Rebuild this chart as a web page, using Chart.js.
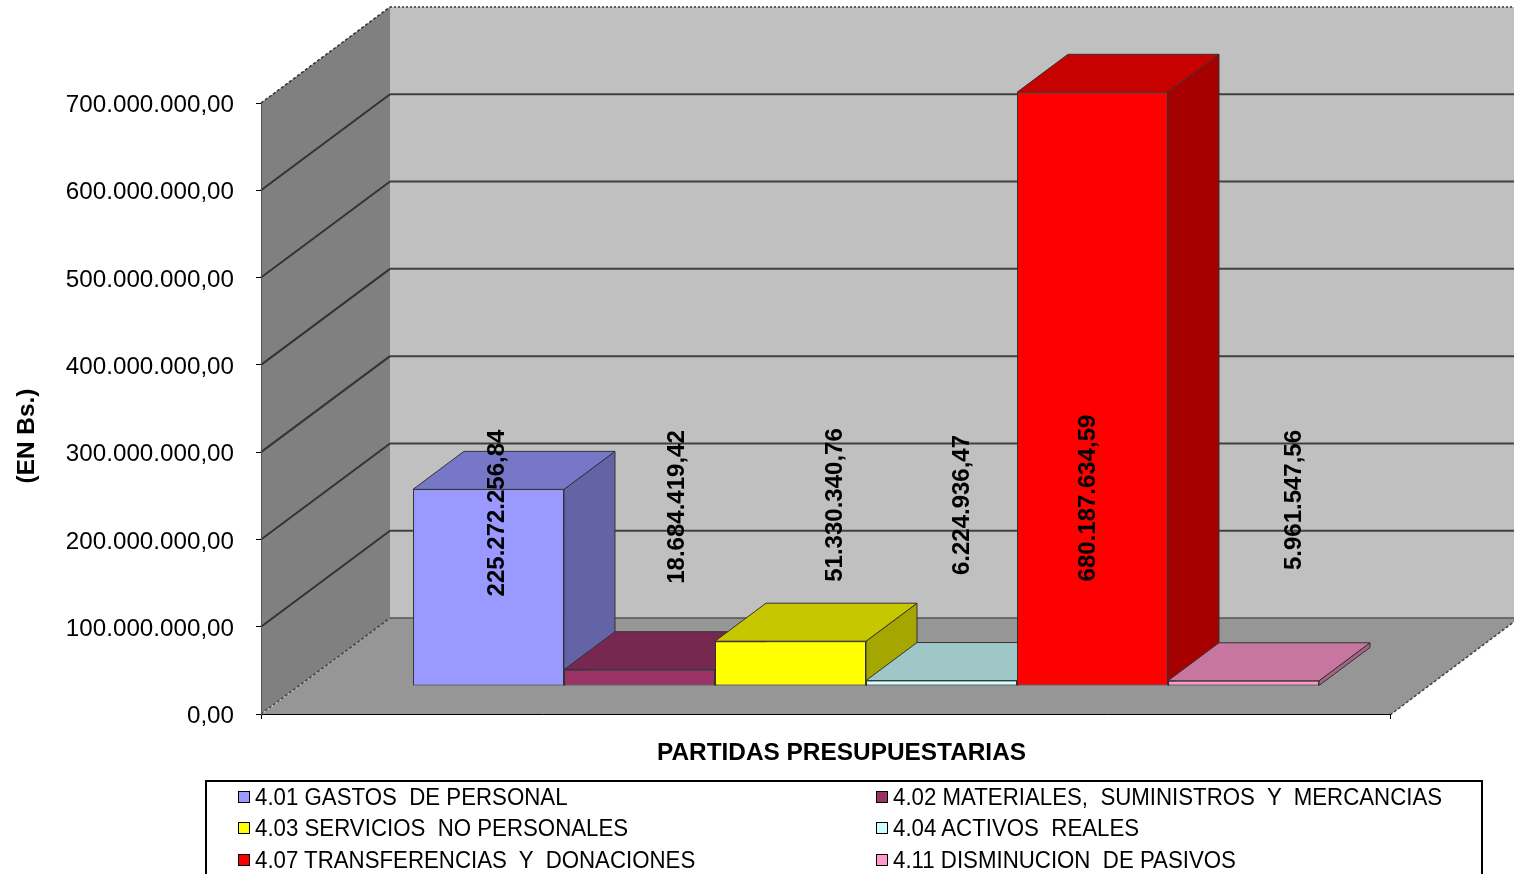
<!DOCTYPE html>
<html>
<head>
<meta charset="utf-8">
<title>Partidas presupuestarias</title>
<script src="https://cdn.jsdelivr.net/npm/chart.js@4"></script>
<style>
    html, body { margin: 0; padding: 0; background: #fff; overflow: hidden; }
    #stage { position: relative; width: 1514px; height: 874px; overflow: hidden; }
    #legend {
        position: absolute; left: 205px; top: 780px; width: 1274px; height: 110px;
        border: 2px solid #000; font: 23.5px "Liberation Sans", Arial, sans-serif; color: #000;
    }
    #legend span {
        position: absolute; white-space: pre; line-height: 28px; height: 28px;
        transform: scaleX(0.947); transform-origin: 0 0;
    }
    #legend i { position: absolute; width: 10px; height: 10px; border: 1px solid #000; }
</style>
</head>
<body>
<div id="stage">
    <canvas id="chart" width="1514" height="874"></canvas>
    <div id="legend"></div>
</div>
<script>
const seriesNames = [
    '4.01 GASTOS  DE PERSONAL',
    '4.02 MATERIALES,  SUMINISTROS  Y  MERCANCIAS',
    '4.03 SERVICIOS  NO PERSONALES',
    '4.04 ACTIVOS  REALES',
    '4.07 TRANSFERENCIAS  Y  DONACIONES',
    '4.11 DISMINUCION  DE PASIVOS'
];
const seriesValues = [225272256.84, 18684419.42, 51330340.76, 6224936.47, 680187634.59, 5961547.56];
const seriesColors = ['#9999FF', '#993366', '#FFFF00', '#CCFFFF', '#FF0000', '#FF99CC'];
const categories = [''];
const axisMax = 700000000;
const axisStep = 100000000;
const yAxisTitle = '(EN Bs.)';
const xAxisTitle = 'PARTIDAS PRESUPUESTARIAS';

// the value labels were placed by hand in the original: offset from bar centre / axis zero
const labelShiftX = [9, 38, 45, 21, -4, 51];
const labelShiftY = [-201, -207, -209, -209, -216, -214];

const wallDepth = { x: 129, y: -96 };
const barShift = { x: 40.5, y: -28 };
const barDepth = { x: 51, y: -38 };
const font = '"Liberation Sans", Arial, sans-serif';

function numberText(value) {
    return value.toLocaleString('de-DE', { minimumFractionDigits: 2, maximumFractionDigits: 2 });
}

function shade(hex, factor) {
    const parts = [1, 3, 5].map(function (i) {
        return Math.round(parseInt(hex.substr(i, 2), 16) * factor);
    });
    return 'rgb(' + parts.join(',') + ')';
}

function polygon(ctx, points, fill, stroke, width) {
    ctx.beginPath();
    points.forEach(function (p, i) {
        if (i === 0) { ctx.moveTo(p[0], p[1]); } else { ctx.lineTo(p[0], p[1]); }
    });
    ctx.closePath();
    ctx.fillStyle = fill;
    ctx.fill();
    if (stroke) {
        ctx.strokeStyle = stroke;
        ctx.lineWidth = width || 1;
        ctx.stroke();
    }
}

function line(ctx, x1, y1, x2, y2, color, width, dash) {
    ctx.save();
    ctx.beginPath();
    ctx.setLineDash(dash || []);
    ctx.moveTo(x1, y1);
    ctx.lineTo(x2, y2);
    ctx.strokeStyle = color;
    ctx.lineWidth = width;
    ctx.stroke();
    ctx.restore();
}

const box3d = {
    id: 'box3d',
    // walls go under the axes, bars over them
    beforeDraw: function (chart) {
        const ctx = chart.ctx;
        const area = chart.chartArea;
        const yScale = chart.scales.y;
        const dx = wallDepth.x;
        const dy = wallDepth.y;

        polygon(ctx, [[area.left, area.top], [area.left + dx, area.top + dy], [area.left + dx, area.bottom + dy], [area.left, area.bottom]], '#808080');
        polygon(ctx, [[area.left + dx, area.top + dy], [area.right + dx, area.top + dy], [area.right + dx, area.bottom + dy], [area.left + dx, area.bottom + dy]], '#C0C0C0');
        polygon(ctx, [[area.left, area.bottom + 1], [area.left + dx, area.bottom + dy], [area.right + dx, area.bottom + dy], [area.right, area.bottom + 1]], '#969696');

        // grid runs along the left wall and across the back wall
        yScale.ticks.forEach(function (tick) {
            const y = yScale.getPixelForValue(tick.value);
            if (tick.value === axisMax) {
                line(ctx, area.left, y, area.left + dx, y + dy, '#333', 1.5, [3, 2]);
                line(ctx, area.left + dx, y + dy, area.right + dx, y + dy, '#333', 1.5, [2, 2]);
            } else if (tick.value === 0) {
                line(ctx, area.left, y, area.left + dx, y + dy, '#444', 1.5, [3, 2]);
                line(ctx, area.left + dx, y + dy, area.right + dx, y + dy, '#555', 1.5);
            } else {
                line(ctx, area.left, y, area.left + dx, y + dy, '#333', 2);
                line(ctx, area.left + dx, y + dy, area.right + dx, y + dy, '#404040', 2);
            }
        });
        line(ctx, area.right, area.bottom + 1, area.right + dx, area.bottom + dy, '#444', 1.5, [3, 2]);

        // tick labels sit a little lower than the tick marks in the original
        yScale.getLabelItems(area).forEach(function (item) {
            item.options.translation[1] += 2.5;
        });
    },
    beforeDatasetsDraw: function (chart) {
        const ctx = chart.ctx;

        // top and right side of each bar, left to right so neighbours overlap correctly
        chart.data.datasets.forEach(function (dataset, i) {
            const bar = chart.getDatasetMeta(i).data[0];
            const color = dataset.backgroundColor;
            const left = bar.x - bar.width / 2 + barShift.x;
            const right = bar.x + bar.width / 2 + barShift.x;
            const top = bar.y + barShift.y;
            const base = bar.base + barShift.y;
            polygon(ctx, [[right, top], [right + barDepth.x, top + barDepth.y], [right + barDepth.x, base + barDepth.y], [right, base]], shade(color, 0.65), '#333');
            polygon(ctx, [[left, top], [left + barDepth.x, top + barDepth.y], [right + barDepth.x, top + barDepth.y], [right, top]], shade(color, 0.78), '#333');
        });

        // native bars become the front faces
        ctx.save();
        ctx.translate(barShift.x, barShift.y);
    },
    afterDatasetsDraw: function (chart) {
        const ctx = chart.ctx;
        ctx.restore();

        const zero = chart.scales.y.getPixelForValue(0);
        ctx.save();
        ctx.fillStyle = '#000';
        ctx.font = 'bold 24px ' + font;
        ctx.textAlign = 'center';
        ctx.textBaseline = 'middle';
        chart.data.datasets.forEach(function (dataset, i) {
            const bar = chart.getDatasetMeta(i).data[0];
            ctx.save();
            ctx.translate(bar.x + barShift.x + labelShiftX[i], zero + labelShiftY[i]);
            ctx.rotate(-Math.PI / 2);
            ctx.fillText(numberText(dataset.data[0]), 0, 0);
            ctx.restore();
        });
        ctx.restore();
    },
    afterDraw: function (chart) {
        const ctx = chart.ctx;
        ctx.save();
        ctx.fillStyle = '#000';
        ctx.font = 'bold 24.4px ' + font;
        ctx.textAlign = 'center';
        ctx.textBaseline = 'middle';
        ctx.fillText(xAxisTitle, 841.5, 753);
        ctx.translate(27, 436);
        ctx.rotate(-Math.PI / 2);
        ctx.fillText(yAxisTitle, 0, 0);
        ctx.restore();
    }
};

const chart = new Chart(document.getElementById('chart').getContext('2d'), {
    type: 'bar',
    data: {
        labels: categories,
        datasets: seriesNames.map(function (name, i) {
            return {
                label: name,
                data: [seriesValues[i]],
                backgroundColor: seriesColors[i],
                borderColor: '#333',
                borderWidth: 1,
                borderSkipped: false,
                clip: false
            };
        })
    },
    options: {
        responsive: false,
        animation: false,
        devicePixelRatio: 1,
        layout: { padding: { top: 103, right: 124, left: 0, bottom: 0 } },
        categoryPercentage: 0.8025,
        barPercentage: 1,
        plugins: { legend: { display: false }, tooltip: { enabled: false } },
        scales: {
            x: {
                grid: { drawOnChartArea: false, color: '#000', tickLength: 5 },
                border: { color: '#000' },
                ticks: { display: false },
                afterFit: function (scale) { scale.height = 160; }
            },
            y: {
                min: 0,
                max: axisMax,
                grid: { drawOnChartArea: false, color: '#000', tickLength: 5 },
                border: { color: '#555', dash: [2, 2] },
                ticks: {
                    stepSize: axisStep,
                    padding: 22,
                    color: '#000',
                    font: { family: font, size: 24.2 },
                    callback: function (value) { return numberText(value); }
                },
                afterFit: function (scale) { scale.width = 261; }
            }
        }
    },
    plugins: [box3d]
});

// two column legend, filled row by row
const legendNode = document.getElementById('legend');
chart.data.datasets.forEach(function (dataset, i) {
    const left = i % 2 === 0 ? 48 : 686;
    const top = [0, 0, 31, 31, 63, 63][i] + 1;
    const swatch = document.createElement('i');
    swatch.style.left = (left - 17) + 'px';
    swatch.style.top = (top + 8) + 'px';
    swatch.style.background = dataset.backgroundColor;
    legendNode.appendChild(swatch);
    const item = document.createElement('span');
    item.style.left = left + 'px';
    item.style.top = top + 'px';
    item.textContent = dataset.label;
    legendNode.appendChild(item);
});
</script>
</body>
</html>
